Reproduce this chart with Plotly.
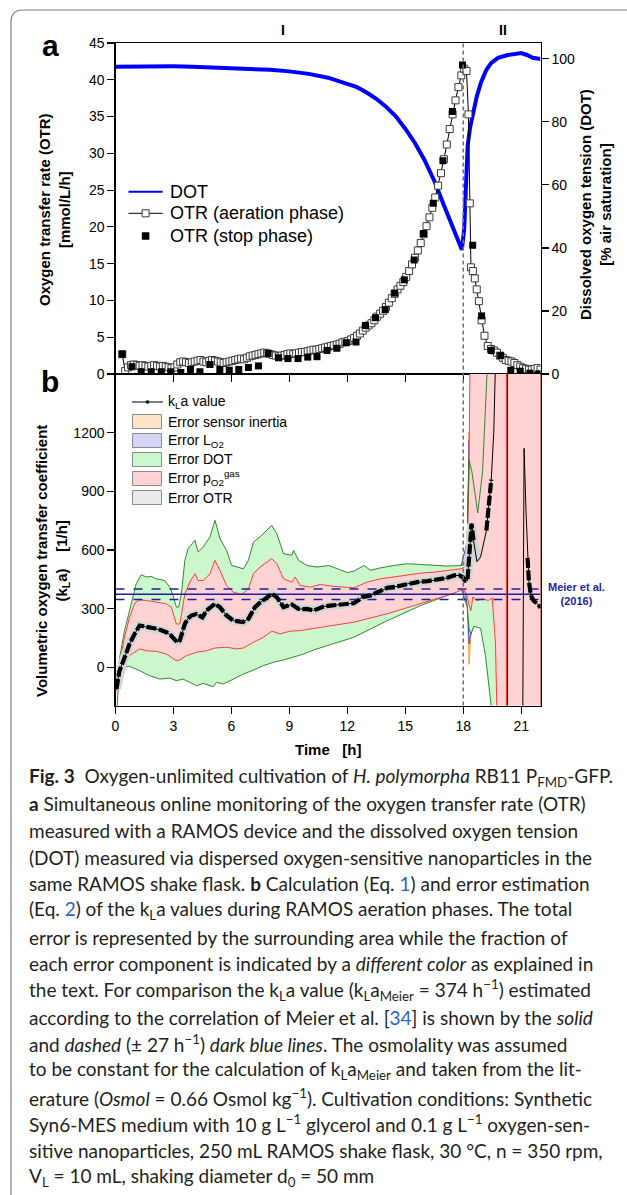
import plotly.graph_objects as go

W, H = 627, 1195


def X(px):
    return px / W


def Y(py):
    return 1 - py / H


# ------------------------------------------------------------------ data
TIME_TICKS = [0, 3, 6, 9, 12, 15, 18, 21]
OTR_TICKS = [0, 5, 10, 15, 20, 25, 30, 35, 40, 45]
DOT_TICKS = [0, 20, 40, 60, 80, 100]
KLA_TICKS = [0, 300, 600, 900, 1200]
PHASE_SWITCH_T = 18.0
KLA_MEIER = 374
KLA_MEIER_ERR = 27

# Panel a: DOT [% air saturation]
dot_t = [0.0, 1.0, 2.0, 3.0, 4.0, 5.0, 6.0, 7.0, 8.0, 9.0, 10.0, 11.0, 12.0, 12.5,
         13.0, 13.5, 14.0, 14.5, 15.0, 15.5, 16.0, 16.5, 17.0, 17.5, 17.93, 18.05,
         18.15, 18.23, 18.35, 18.49, 18.7, 18.92, 19.2, 19.44, 19.8, 20.3, 20.7,
         21.0, 21.3, 21.6, 22.0]
dot_val = [97.5, 97.6, 97.7, 97.6, 97.5, 97.3, 97.0, 96.8, 96.5, 96.0, 95.2, 94.0,
           92.2, 91.0, 89.3, 87.3, 84.8, 81.8, 77.8, 73.3, 67.8, 61.3, 53.5, 46.0,
           39.4, 46.0, 60.0, 72.5, 78.0, 82.5, 88.0, 92.5, 96.5, 98.6, 100.3, 101.2,
           101.6, 101.8, 101.2, 100.3, 99.9]

# Panel a: OTR aeration phase [mmol/L/h]
otr_aer_t = [0.35, 0.5, 0.65, 0.8, 0.95, 1.1, 1.25, 1.4, 1.55, 1.7,
             1.85, 2.0, 2.15, 2.3, 2.45, 2.6, 2.75, 2.9, 3.05, 3.2,
             3.35, 3.5, 3.65, 3.8, 3.95, 4.1, 4.25, 4.4, 4.55, 4.7,
             4.85, 5.0, 5.15, 5.3, 5.45, 5.6, 5.75, 5.9, 6.05, 6.2,
             6.35, 6.5, 6.65, 6.8, 6.95, 7.1, 7.25, 7.4, 7.55, 7.7,
             7.85, 8.0, 8.15, 8.3, 8.45, 8.6, 8.75, 8.9, 9.05, 9.2,
             9.35, 9.5, 9.65, 9.8, 9.95, 10.1, 10.25, 10.4, 10.55, 10.7,
             10.85, 11.0, 11.15, 11.3, 11.45, 11.6, 11.75, 11.9, 12.05, 12.2,
             12.35, 12.5, 12.65, 12.8, 12.95, 13.1, 13.25, 13.4, 13.55, 13.7,
             13.85, 14.0, 14.15, 14.3, 14.45, 14.6, 14.75, 14.9, 15.05, 15.2,
             15.35, 15.5, 15.65, 15.8, 15.95, 16.1, 16.25, 16.4, 16.55, 16.7,
             16.85, 17.0, 17.15, 17.3, 17.45, 17.6, 17.75, 17.9, 18.05, 18.17,
             18.27, 18.34, 18.4, 18.5, 18.6, 18.7, 18.81, 18.95, 19.1, 19.27,
             19.44, 19.6, 19.75, 19.9, 20.05, 20.2, 20.35, 20.5, 20.65, 20.8,
             20.95, 21.1, 21.25, 21.4, 21.55, 21.7, 21.85, 22.0]
otr_aer = [2.7, 0.4, 0.9, 1.2, 1.3, 1.2, 1.1, 1.2, 1.1, 1.0,
           1.1, 1.2, 1.1, 1.0, 1.1, 1.0, 0.9, 0.8, 0.9, 1.3,
           1.6, 1.7, 1.6, 1.5, 1.6, 1.7, 1.8, 1.9, 1.7, 1.6,
           1.8, 1.9, 1.8, 1.7, 1.6, 1.5, 1.6, 1.7, 1.8, 1.9,
           2.0, 2.1, 2.0, 2.2, 2.4, 2.5, 2.6, 2.7, 2.8, 2.9,
           2.8, 2.7, 2.6, 2.5, 2.4, 2.5, 2.6, 2.7, 2.8, 2.7,
           2.8, 2.9, 3.0, 3.0, 3.1, 3.2, 3.3, 3.3, 3.4, 3.5,
           3.6, 3.7, 3.8, 3.9, 4.0, 4.1, 4.3, 4.4, 4.5, 4.7,
           4.9, 5.2, 5.5, 5.9, 6.3, 6.6, 6.9, 7.3, 7.8, 8.2,
           8.6, 9.1, 9.7, 10.3, 10.9, 11.5, 12.0, 12.5, 13.2, 14.0,
           14.9, 15.8, 16.8, 17.8, 19.0, 20.1, 21.3, 22.6, 24.0, 25.6,
           27.3, 29.2, 31.2, 33.3, 35.3, 37.2, 39.0, 40.6, 41.5, 41.2,
           35.3, 23.2, 14.5, 14.0, 13.0, 11.5, 9.9, 7.3, 5.2, 3.8,
           3.4, 3.2, 2.9, 2.5, 2.2, 1.9, 1.8, 1.7, 1.5, 1.2,
           1.0, 0.8, 0.7, 0.6, 0.6, 0.7, 0.8, 0.6]

# Panel a: OTR stop phase [mmol/L/h]
otr_stop_t = [0.35, 0.85, 1.33, 1.85, 2.37, 2.86, 3.38, 3.88, 4.37, 4.89,
              5.4, 5.89, 6.38, 6.88, 7.4, 7.9, 8.44, 8.93, 9.45, 9.95,
              10.43, 10.95, 11.46, 11.95, 12.45, 12.94, 13.46, 13.96, 14.45, 14.95,
              15.46, 15.95, 16.45, 16.95, 17.44, 17.96, 18.49, 18.95, 19.45, 19.94,
              20.46, 20.95, 21.45, 21.92]
otr_stop = [2.7, 1.0, 0.3, 0.3, 0.3, 0.3, 0.2, 0.6, 0.3, 1.3,
            0.6, 0.5, 0.6, 0.9, 1.1, 2.8, 2.2, 2.1, 2.1, 2.3,
            2.35, 3.2, 3.5, 4.25, 4.35, 6.6, 7.65, 8.75, 11.0, 12.8,
            15.5, 19.1, 23.2, 29.0, 35.7, 42.0, 17.5, 7.9, 3.2, 2.5,
            0.5, 0.36, 0.1, 0.05]

# Panel b: kLa value [1/h]
kla_t = [0.05, 0.2, 0.38, 0.55, 0.73, 0.99, 1.25, 1.45, 1.7, 2.0,
         2.3, 2.63, 2.85, 3.0, 3.2, 3.33, 3.45, 3.59, 3.75, 3.93,
         4.19, 4.35, 4.5, 4.71, 4.95, 5.15, 5.4, 5.6, 5.75, 6.1,
         6.35, 6.6, 6.88, 7.05, 7.22, 7.45, 7.66, 7.9, 8.09, 8.35,
         8.55, 8.7, 8.9, 9.13, 9.3, 9.48, 9.7, 9.91, 10.26, 10.5,
         10.78, 11.12, 11.64, 12.0, 12.34, 12.6, 12.77, 13.2, 13.63, 14.07,
         14.59, 15.1, 15.63, 16.15, 16.67, 17.18, 17.53, 17.79, 17.97, 18.09,
         18.22, 18.36, 18.43, 18.53, 18.71, 18.9, 19.2, 19.45, 19.58, 19.68,
         20.29, 20.30, 21.0, 21.08, 21.15, 21.25, 21.33, 21.4, 21.5, 21.65,
         21.85, 22.0]
kla_val = [-110, -20, 26, 75, 120, 171, 214, 210, 203, 200,
           192, 180, 165, 152, 128, 137, 175, 222, 250, 265,
           273, 262, 255, 291, 312, 325, 308, 283, 265, 239,
           233, 232, 248, 275, 308, 328, 345, 360, 376, 359,
           330, 308, 315, 321, 310, 299, 298, 299, 291, 300,
           311, 316, 321, 326, 328, 345, 359, 368, 385, 407,
           414, 427, 436, 441, 448, 458, 470, 470, 462, 444,
           444, 615, 735, 650, 540, 565, 700, 960, 1200, 1600,
           6000, -6000, -3000, -300, 1120, 800, 560, 440, 370, 340,
           325, 305]

# Panel b: error band boundaries [1/h]
green_up_t = [0.05, 0.2, 0.45, 0.73, 1.07, 1.33, 1.59, 1.85, 2.11, 2.55,
              2.81, 2.98, 3.15, 3.27, 3.41, 3.59, 3.76, 3.95, 4.11, 4.28,
              4.54, 4.89, 5.15, 5.41, 5.75, 6.01, 6.27, 6.62, 6.88, 7.14,
              7.48, 7.83, 8.09, 8.35, 8.7, 9.13, 9.22, 9.48, 9.91, 10.43,
              11.04, 11.6, 12.0, 12.34, 12.86, 13.2, 13.72, 14.42, 15.1, 15.8,
              16.5, 17.18, 17.9, 18.1, 18.2, 18.3, 18.45, 18.75, 19.0, 19.23,
              19.35, 22.0]
green_up = [-60, 40, 180, 290, 427, 474, 462, 465, 453, 444,
            410, 368, 308, 308, 376, 547, 607, 630, 650, 590,
            615, 667, 752, 658, 598, 521, 513, 504, 547, 641,
            667, 701, 726, 684, 581, 573, 598, 547, 521, 513,
            521, 500, 485, 492, 521, 496, 509, 521, 530, 526,
            521, 518, 521, 530, 620, 1060, 1000, 790, 1000, 1500,
            2500, 6000]
green_lo_t = [0.05, 0.2, 0.35, 0.73, 1.25, 1.77, 2.29, 2.81, 3.15, 3.5,
              3.85, 4.19, 4.54, 5.06, 5.23, 5.58, 6.1, 6.62, 7.14, 7.66,
              8.18, 8.7, 9.22, 9.74, 10.26, 10.78, 11.12, 12.34, 14.07, 15.8,
              17.18, 17.9, 18.1, 18.2, 18.3, 18.4, 18.55, 18.9, 19.15, 19.45,
              19.9, 22.0]
green_lo = [-260, -10, 5, 5, -17, -43, -60, -55, -68, -60,
            -77, -94, -82, -99, -77, -85, -60, -34, -14, 9,
            26, 38, 51, 68, 89, 103, 115, 154, 239, 316,
            368, 402, 390, 320, 200, 170, 210, 200, 60, -200,
            -400, -6000]
red_up_t = [0.05, 0.2, 0.45, 0.73, 1.0, 1.25, 1.59, 2.11, 2.63, 2.89,
            3.15, 3.33, 3.59, 3.85, 4.11, 4.28, 4.54, 4.89, 5.15, 5.41,
            5.75, 6.1, 6.53, 6.88, 7.14, 7.48, 7.83, 8.09, 8.35, 8.7,
            9.13, 9.3, 9.56, 10.08, 10.6, 11.3, 12.34, 13.03, 13.72, 14.42,
            15.1, 15.8, 16.5, 17.18, 17.88, 18.09, 18.2, 18.3, 18.36, 20.22,
            20.25, 20.28, 22.0]
red_up = [-100, 10, 150, 256, 330, 345, 342, 333, 325, 308,
          222, 222, 376, 436, 479, 444, 444, 479, 547, 496,
          419, 385, 373, 402, 479, 513, 538, 556, 530, 453,
          436, 462, 419, 410, 424, 414, 407, 436, 453, 462,
          474, 482, 487, 496, 504, 513, 600, 1000, 1700, 6000,
          -6000, 6000, 6000]
red_lo_t = [0.05, 0.2, 0.45, 0.73, 1.25, 1.59, 2.11, 2.63, 3.15, 3.33,
            3.67, 4.19, 4.71, 5.15, 5.75, 6.27, 6.62, 7.14, 7.66, 8.09,
            8.52, 9.04, 9.56, 10.08, 10.6, 12.34, 14.07, 15.8, 17.18, 17.88,
            18.05, 18.2, 18.3, 18.4, 18.5, 18.7, 19.0, 19.3, 19.5, 19.67,
            19.76, 22.0]
red_lo = [-120, 10, 40, 60, 94, 85, 82, 68, 34, 38,
          60, 77, 85, 99, 103, 94, 99, 128, 154, 185,
          171, 185, 188, 197, 205, 231, 274, 325, 368, 393,
          393, 365, 320, 290, 360, 342, 350, 342, 355, 120,
          -300, -6000]
spike_t = [17.9, 18.22, 18.3, 18.4, 18.5]
orange_up = [521, 650, 1205, 1020, 930]
orange_lo = [402, 300, 15, 170, 210]
blue_up = [523, 645, 1165, 1015, 930]
blue_lo = [400, 310, 120, 175, 210]

# caption
caption_lines = [
    "<b>Fig. 3</b>\u00a0\u00a0Oxygen-unlimited cultivation of <i>H. polymorpha</i> RB11 P<sub>FMD</sub>-GFP.",
    "<b>a</b> Simultaneous online monitoring of the oxygen transfer rate (OTR)",
    "measured with a RAMOS device and the dissolved oxygen tension",
    "(DOT) measured via dispersed oxygen-sensitive nanoparticles in the",
    "same RAMOS shake flask. <b>b</b> Calculation (Eq. <span style='color:#2b5fce'>1</span>) and error estimation",
    "(Eq. <span style='color:#2b5fce'>2</span>) of the k<sub>L</sub>a values during RAMOS aeration phases. The total",
    "error is represented by the surrounding area while the fraction of",
    "each error component is indicated by a <i>different color</i> as explained in",
    "the text. For comparison the k<sub>L</sub>a value (k<sub>L</sub>a<sub>Meier</sub> = 374 h<sup>\u22121</sup>) estimated",
    "according to the correlation of Meier et al. [<span style='color:#2b5fce'>34</span>] is shown by the <i>solid</i>",
    "and <i>dashed</i> (\u00b1 27 h<sup>\u22121</sup>) <i>dark blue lines</i>. The osmolality was assumed",
    "to be constant for the calculation of k<sub>L</sub>a<sub>Meier</sub> and taken from the lit-",
    "erature (<i>Osmol</i> = 0.66 Osmol kg<sup>\u22121</sup>). Cultivation conditions: Synthetic",
    "Syn6-MES medium with 10 g L<sup>\u22121</sup> glycerol and 0.1 g L<sup>\u22121</sup> oxygen-sen-",
    "sitive nanoparticles, 250 mL RAMOS shake flask, 30 \u00b0C, n = 350 rpm,",
    "V<sub>L</sub> = 10 mL, shaking diameter d<sub>0</sub> = 50 mm",
]

# ------------------------------------------------------------------ styles
FONT = "Liberation Sans, Arial, sans-serif"
CAP_FONT = "Lato, Noto Sans, sans-serif"
MEIER_COLOR = "#1f1fa6"
XA = [X(115.5), X(540.5)]
YA = [Y(374), Y(43)]
YB = [Y(705.5), Y(374)]

fig = go.Figure()

# ---- panel a
fig.add_trace(go.Scatter(x=dot_t, y=dot_val, xaxis="x", yaxis="y", mode="lines",
                         line=dict(color="#0000ff", width=4), hoverinfo="skip"))
fig.add_trace(go.Scatter(x=otr_aer_t, y=otr_aer, xaxis="x", yaxis="y2", mode="lines+markers",
                         line=dict(color="black", width=1),
                         marker=dict(symbol="square", size=7, color="white",
                                     line=dict(color="#3a3a3a", width=1)),
                         hoverinfo="skip"))
fig.add_trace(go.Scatter(x=otr_stop_t, y=otr_stop, xaxis="x", yaxis="y2", mode="markers",
                         marker=dict(symbol="square", size=7, color="black"), hoverinfo="skip"))


# ---- panel b bands
def band(tu, vu, tl, vl, fill, edge):
    return go.Scatter(x=list(tu) + list(tl)[::-1], y=list(vu) + list(vl)[::-1],
                      fill="toself", fillcolor=fill, mode="lines",
                      line=dict(color=edge, width=0.9), xaxis="x2", yaxis="y3",
                      hoverinfo="skip")


fig.add_trace(band(spike_t, orange_up, spike_t, orange_lo, "#fde5c8", "#ff9a1f"))
fig.add_trace(band(spike_t, blue_up, spike_t, blue_lo, "#d4d4f7", "#3b3bdb"))
fig.add_trace(band(green_up_t, green_up, green_lo_t, green_lo, "#ccf7cc", "#1e7b1e"))
fig.add_trace(band(red_up_t, red_up, red_lo_t, red_lo, "#ffd3d3", "#ff2a2a"))

# green DOT-error edge stays visible over the pink area after the phase switch
green_edge_late = [v if t >= 18.1 else None for t, v in zip(green_up_t, green_up)]
fig.add_trace(go.Scatter(x=green_up_t, y=green_edge_late, xaxis="x2", yaxis="y3", mode="lines",
                         line=dict(color="#1e7b1e", width=0.9), hoverinfo="skip"))

# OTR error halo around kLa
halo = [v if t <= 18.71 else None for t, v in zip(kla_t, kla_val)]
fig.add_trace(go.Scatter(x=kla_t, y=halo, xaxis="x2", yaxis="y3", mode="lines",
                         line=dict(color="#d6d6d6", width=9), hoverinfo="skip"))

# Meier reference lines
for val, dash in [(KLA_MEIER, "solid"), (KLA_MEIER - KLA_MEIER_ERR, "dash"),
                  (KLA_MEIER + KLA_MEIER_ERR, "dash")]:
    fig.add_trace(go.Scatter(x=[0, 22], y=[val, val], xaxis="x2", yaxis="y3", mode="lines",
                             line=dict(color=MEIER_COLOR, width=1.5, dash=dash),
                             hoverinfo="skip"))

# kLa thin + thick
fig.add_trace(go.Scatter(x=kla_t, y=kla_val, xaxis="x2", yaxis="y3", mode="lines",
                         line=dict(color="black", width=1), hoverinfo="skip"))


def is_thick(t):
    return t <= 18.22 or (18.36 <= t <= 18.53) or (19.2 <= t <= 19.45) or t >= 21.33


thick = [v if is_thick(t) else None for t, v in zip(kla_t, kla_val)]
fig.add_trace(go.Scatter(x=kla_t, y=thick, xaxis="x2", yaxis="y3", mode="lines",
                         line=dict(color="black", width=4.2, dash="10px,2.5px"),
                         hoverinfo="skip"))

# ------------------------------------------------------------------ axes
common = dict(showgrid=False, zeroline=False, showline=True, linecolor="black",
              linewidth=1.2, ticks="outside", ticklen=7, tickwidth=1.2, tickcolor="black",
              automargin=False,
              tickfont=dict(family=FONT, size=14, color="black"))

fig.update_layout(
    template="none",
    width=W, height=H, autosize=False,
    margin=dict(l=0, r=0, t=0, b=0, pad=0, autoexpand=False),
    paper_bgcolor="white", plot_bgcolor="rgba(0,0,0,0)",
    showlegend=False,
    font=dict(family=FONT, color="black"),
    xaxis=dict(domain=XA, anchor="y", range=[0, 22], tickvals=TIME_TICKS,
               showticklabels=False, mirror=True, **common),
    yaxis=dict(domain=YA, anchor="x", side="right", range=[0, 105], tickvals=DOT_TICKS, **common),
    yaxis2=dict(overlaying="y", anchor="x", side="left", range=[0, 45], tickvals=OTR_TICKS, **common),
    xaxis2=dict(domain=XA, anchor="y3", range=[0, 22], tickvals=TIME_TICKS, mirror=True, **common),
    yaxis3=dict(domain=YB, anchor="x2", range=[-195, 1500], tickvals=KLA_TICKS, mirror=True, **common),
)

shapes = []
# figure frame
shapes.append(dict(type="path", xref="paper", yref="paper",
                   path=f"M {X(627)},{Y(10)} L {X(23)},{Y(10)} Q {X(11)},{Y(10)} {X(11)},{Y(22)} L {X(11)},{Y(1195)}",
                   line=dict(color="#808080", width=1.2)))
# phase switch dashed line
shapes.append(dict(type="line", xref="x2", yref="paper", x0=PHASE_SWITCH_T, x1=PHASE_SWITCH_T,
                   y0=YB[0], y1=YA[1], line=dict(color="#707070", width=1.5, dash="4px,3px")))

# legend panel a
shapes.append(dict(type="line", xref="paper", yref="paper", x0=X(128.5), x1=X(162.7),
                   y0=Y(191.7), y1=Y(191.7), line=dict(color="#0000ff", width=2)))
shapes.append(dict(type="line", xref="paper", yref="paper", x0=X(128.5), x1=X(162.7),
                   y0=Y(213.3), y1=Y(213.3), line=dict(color="black", width=1)))
shapes.append(dict(type="rect", xref="paper", yref="paper", x0=X(142.1), x1=X(149.1),
                   y0=Y(216.8), y1=Y(209.8), fillcolor="white", line=dict(color="#3a3a3a", width=1)))
shapes.append(dict(type="rect", xref="paper", yref="paper", x0=X(142.1), x1=X(149.1),
                   y0=Y(239.5), y1=Y(232.5), fillcolor="black", line=dict(color="black", width=0.5)))

# legend panel b
shapes.append(dict(type="line", xref="paper", yref="paper", x0=X(132), x1=X(163),
                   y0=Y(402), y1=Y(402), line=dict(color="black", width=1)))
shapes.append(dict(type="circle", xref="paper", yref="paper", x0=X(145.7), x1=X(149.3),
                   y0=Y(403.8), y1=Y(400.2), fillcolor="black", line=dict(color="black", width=0)))
leg_b = [("#fde5c8", 421.5, "Error sensor inertia"),
         ("#d4d4f7", 440.5, "Error L<sub>O2</sub>"),
         ("#ccf7cc", 459.5, "Error DOT"),
         ("#ffd3d3", 478.5, "Error p<sub>O2</sub><sup>gas</sup>"),
         ("#eaeaea", 497.5, "Error OTR")]
for col, cy, _ in leg_b:
    shapes.append(dict(type="rect", xref="paper", yref="paper", x0=X(132.5), x1=X(161.5),
                       y0=Y(cy + 7), y1=Y(cy - 7), fillcolor=col, line=dict(color="#8c8c8c", width=1)))

fig.update_layout(shapes=shapes)

ann = []


def A(text, px, py, size, xanchor="center", yanchor="middle", angle=0, color="black", family=FONT):
    ann.append(dict(text=text, x=X(px), y=Y(py), xref="paper", yref="paper", showarrow=False,
                    xanchor=xanchor, yanchor=yanchor, textangle=angle,
                    font=dict(family=family, size=size, color=color)))


A("<b>a</b>", 50, 46, 30)
A("<b>b</b>", 50, 381, 30)
A("<b>I</b>", 283, 30, 14)
A("<b>II</b>", 503, 30, 14)
A("<b>Oxygen transfer rate (OTR)<br>[mmol/L/h]</b>", 54, 210, 15, angle=-90)
A("<b>Dissolved oxygen tension (DOT)<br>[% air saturation]</b>", 596, 205, 15, angle=-90)
A("<b>Volumetric oxygen transfer coefficient<br>(k<sub>L</sub>a)\u00a0\u00a0\u00a0\u00a0[1/h]</b>", 52, 561, 15, angle=-90)
A("<b>Time\u00a0\u00a0\u00a0[h]</b>", 328, 749, 15)
A("<b>Meier et al.<br>(2016)</b>", 546, 594, 11, xanchor="left", color=MEIER_COLOR)

A("DOT", 168, 191.7, 18, xanchor="left")
A("OTR (aeration phase)", 168, 213.3, 18, xanchor="left")
A("OTR (stop phase)", 168, 236, 18, xanchor="left")

A("k<sub>L</sub>a value", 166, 402, 14, xanchor="left")
for _, cy, txt in leg_b:
    A(txt, 166, cy, 14, xanchor="left")

for i, line in enumerate(caption_lines):
    A(line, 27, 777 + 26.67 * i, 19, xanchor="left", color="#231f20", family=CAP_FONT)

fig.update_layout(annotations=ann)

fig.write_html(
    "out.html",
    config={"displayModeBar": False, "staticPlot": True},
    post_script="document.body.style.margin='0';document.body.style.padding='0';"
                "document.documentElement.style.overflow='hidden';",
)
